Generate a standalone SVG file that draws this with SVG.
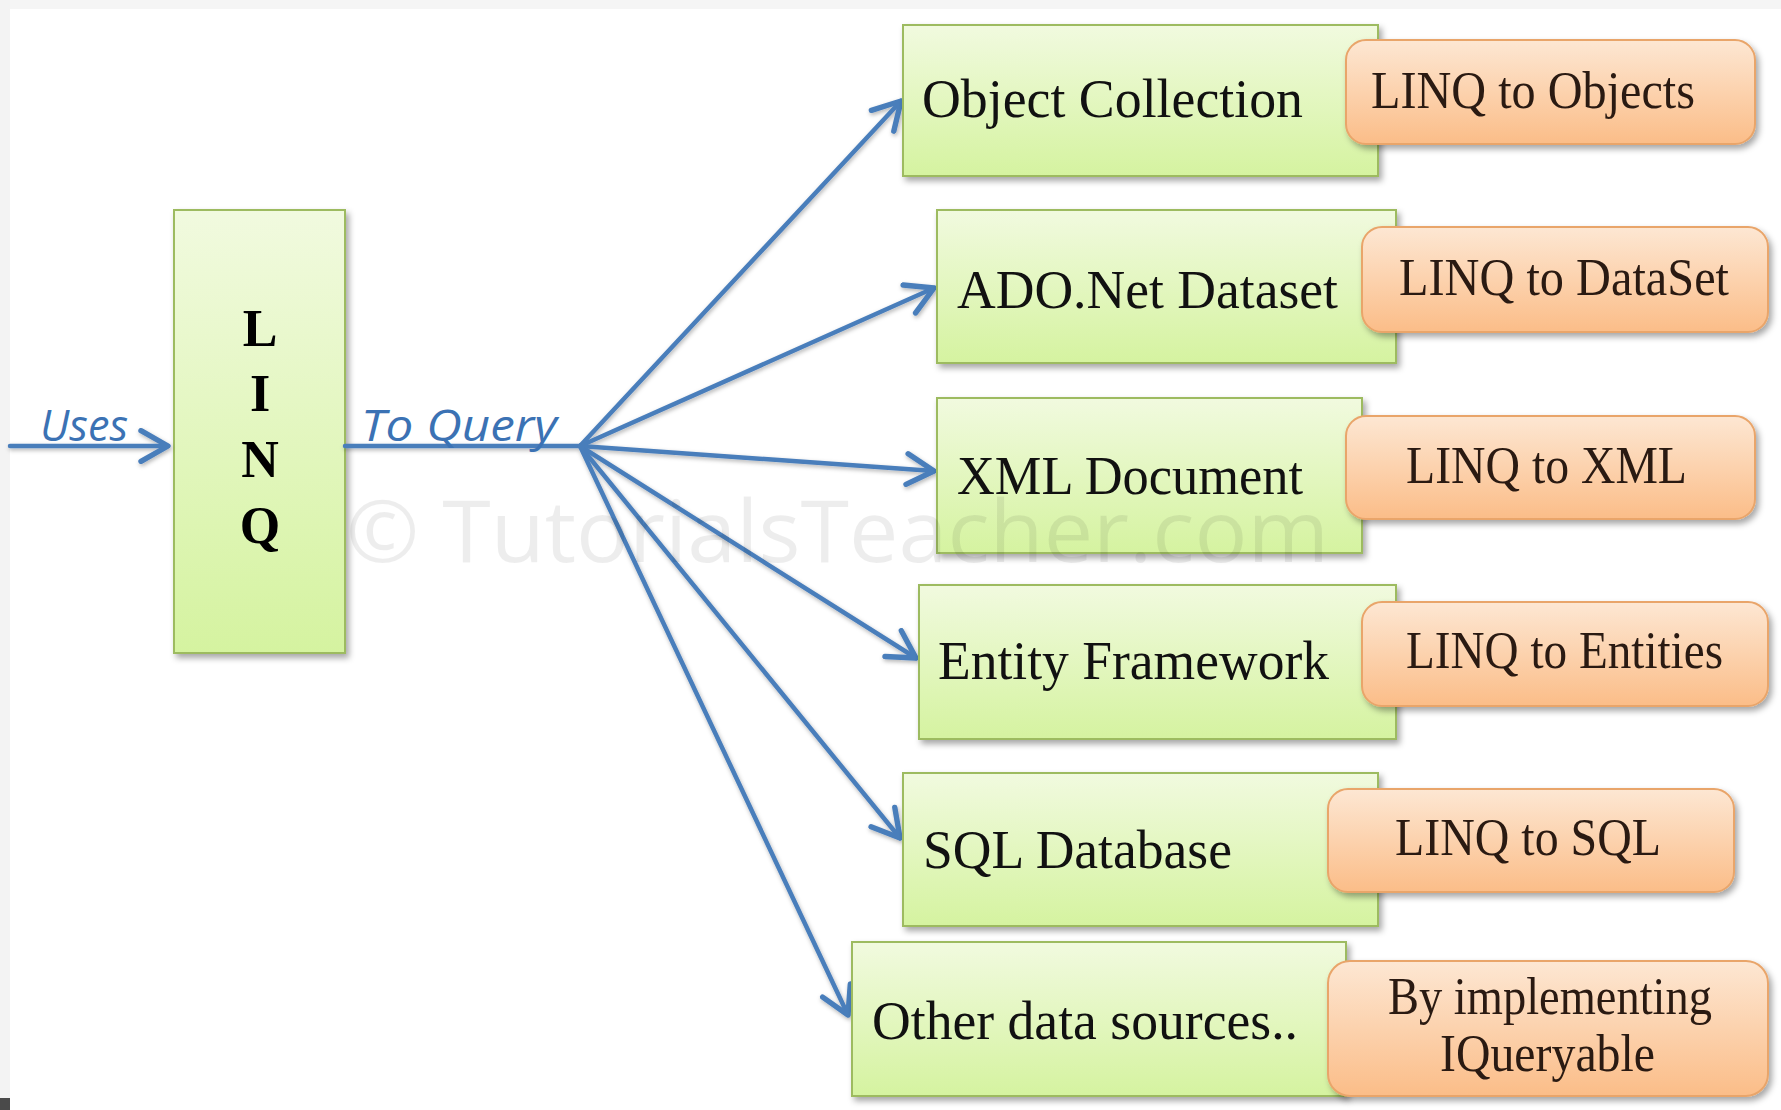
<svg xmlns="http://www.w3.org/2000/svg" width="1781" height="1110" viewBox="0 0 1781 1110">
  <defs>
    <linearGradient id="gGreen" x1="0" y1="0" x2="0" y2="1">
      <stop offset="0" stop-color="#f1fadf"/>
      <stop offset="1" stop-color="#d5f3a0"/>
    </linearGradient>
    <linearGradient id="gOrange" x1="0" y1="0" x2="0" y2="1">
      <stop offset="0" stop-color="#fde7d3"/>
      <stop offset="1" stop-color="#fbbd88"/>
    </linearGradient>
    <filter id="boxShadow" x="-10%" y="-10%" width="125%" height="130%">
      <feDropShadow dx="3" dy="4" stdDeviation="3" flood-color="#000" flood-opacity="0.35"/>
    </filter>
    <filter id="lineShadow" x="-10%" y="-10%" width="120%" height="120%">
      <feDropShadow dx="1" dy="2" stdDeviation="2" flood-color="#000" flood-opacity="0.3"/>
    </filter>
    <marker id="arrowHead" markerWidth="8" markerHeight="8" refX="7" refY="4" orient="auto" markerUnits="strokeWidth">
      <path d="M1,0.6 L7,4 L1,7.4" fill="none" stroke="#4a7ebb" stroke-width="1.2" stroke-linecap="round" stroke-linejoin="round"/>
    </marker>
    <style>
      .green { fill: url(#gGreen); stroke: #9dbb61; stroke-width: 2; filter: url(#boxShadow); }
      .orange { fill: url(#gOrange); stroke: #e9a56a; stroke-width: 2; filter: url(#boxShadow); }
      .src { font-family: "Liberation Serif", "Times New Roman", serif; font-size: 54px; fill: #111; }
      .tech { font-family: "Liberation Serif", "Times New Roman", serif; font-size: 52px; fill: #2a1a12; }
      .linq { font-family: "Liberation Serif", "Times New Roman", serif; font-size: 52px; font-weight: bold; fill: #000; text-anchor: middle; }
      .hand { font-family: "Open Sans", "DejaVu Sans", sans-serif; font-style: italic; font-size: 44px; fill: #3b72b4; }
      .conn { fill: none; stroke: #4a7ebb; stroke-width: 4.5; stroke-linecap: round; }
      .mark { font-family: "Open Sans", "Noto Sans", sans-serif; font-size: 86px; fill: #000; fill-opacity: 0.07; }
    </style>
  </defs>

  <!-- page background with frame edges -->
  <rect x="0" y="0" width="1781" height="1110" fill="#ffffff"/>
  <rect x="0" y="0" width="1781" height="9" fill="#f5f5f5"/>
  <rect x="0" y="0" width="10" height="1110" fill="#f3f3f3"/>
  <rect x="0" y="1098" width="10" height="12" fill="#4a4a4a"/>

  <!-- central LINQ block -->
  <g id="linq">
    <rect class="green" x="174" y="210" width="171" height="443"/>
    <text class="linq" x="260" y="346">L</text>
    <text class="linq" x="260" y="411">I</text>
    <text class="linq" x="260" y="477">N</text>
    <text class="linq" x="260" y="543">Q</text>
  </g>

  <!-- connectors -->
  <g id="connectors" filter="url(#lineShadow)">
    <line class="conn" x1="10" y1="446" x2="168" y2="446" marker-end="url(#arrowHead)"/>
    <line class="conn" x1="345" y1="446" x2="580" y2="446"/>
    <line class="conn" x1="580" y1="446" x2="901" y2="101" marker-end="url(#arrowHead)"/>
    <line class="conn" x1="580" y1="446" x2="934" y2="288" marker-end="url(#arrowHead)"/>
    <line class="conn" x1="580" y1="446" x2="934" y2="471" marker-end="url(#arrowHead)"/>
    <line class="conn" x1="580" y1="446" x2="916" y2="658" marker-end="url(#arrowHead)"/>
    <line class="conn" x1="580" y1="446" x2="900" y2="838" marker-end="url(#arrowHead)"/>
    <line class="conn" x1="580" y1="446" x2="848" y2="1015" marker-end="url(#arrowHead)"/>
  </g>
  <text class="hand" x="40" y="441" textLength="88" lengthAdjust="spacingAndGlyphs">Uses</text>
  <text class="hand" x="361" y="441" textLength="196" lengthAdjust="spacingAndGlyphs">To Query</text>

  <!-- data sources and their providers -->
  <g id="objects">
    <rect class="green" x="903" y="25" width="475" height="151"/>
    <rect class="orange" x="1346" y="40" width="409" height="104" rx="20"/>
    <text class="src" x="922" y="117" textLength="381" lengthAdjust="spacingAndGlyphs">Object Collection</text>
    <text class="tech" x="1371" y="108" textLength="324" lengthAdjust="spacingAndGlyphs">LINQ to Objects</text>
  </g>
  <g id="dataset">
    <rect class="green" x="937" y="210" width="459" height="153"/>
    <rect class="orange" x="1362" y="227" width="406" height="105" rx="20"/>
    <text class="src" x="957" y="308" textLength="381" lengthAdjust="spacingAndGlyphs">ADO.Net Dataset</text>
    <text class="tech" x="1399" y="295" textLength="330" lengthAdjust="spacingAndGlyphs">LINQ to DataSet</text>
  </g>
  <g id="xml">
    <rect class="green" x="937" y="398" width="425" height="155"/>
    <rect class="orange" x="1346" y="416" width="409" height="103" rx="20"/>
    <text class="src" x="957" y="494" textLength="346" lengthAdjust="spacingAndGlyphs">XML Document</text>
    <text class="tech" x="1406" y="483" textLength="281" lengthAdjust="spacingAndGlyphs">LINQ to XML</text>
  </g>
  <g id="entities">
    <rect class="green" x="919" y="585" width="477" height="154"/>
    <rect class="orange" x="1362" y="602" width="406" height="104" rx="20"/>
    <text class="src" x="938" y="679" textLength="391" lengthAdjust="spacingAndGlyphs">Entity Framework</text>
    <text class="tech" x="1406" y="668" textLength="317" lengthAdjust="spacingAndGlyphs">LINQ to Entities</text>
  </g>
  <g id="sql">
    <rect class="green" x="903" y="773" width="475" height="153"/>
    <rect class="orange" x="1328" y="789" width="406" height="103" rx="20"/>
    <text class="src" x="923" y="868" textLength="309" lengthAdjust="spacingAndGlyphs">SQL Database</text>
    <text class="tech" x="1395" y="855" textLength="266" lengthAdjust="spacingAndGlyphs">LINQ to SQL</text>
  </g>
  <g id="other">
    <rect class="green" x="852" y="942" width="494" height="154"/>
    <rect class="orange" x="1328" y="961" width="440" height="135" rx="22"/>
    <text class="src" x="872" y="1039" textLength="426" lengthAdjust="spacingAndGlyphs">Other data sources..</text>
    <text class="tech" x="1388" y="1014" textLength="324" lengthAdjust="spacingAndGlyphs">By implementing</text>
    <text class="tech" x="1440" y="1071" textLength="215" lengthAdjust="spacingAndGlyphs">IQueryable</text>
  </g>

  <!-- faint copyright mark across the middle -->
  <text class="mark" x="346" y="562" textLength="983" lengthAdjust="spacingAndGlyphs">© TutorialsTeacher.com</text>
</svg>
